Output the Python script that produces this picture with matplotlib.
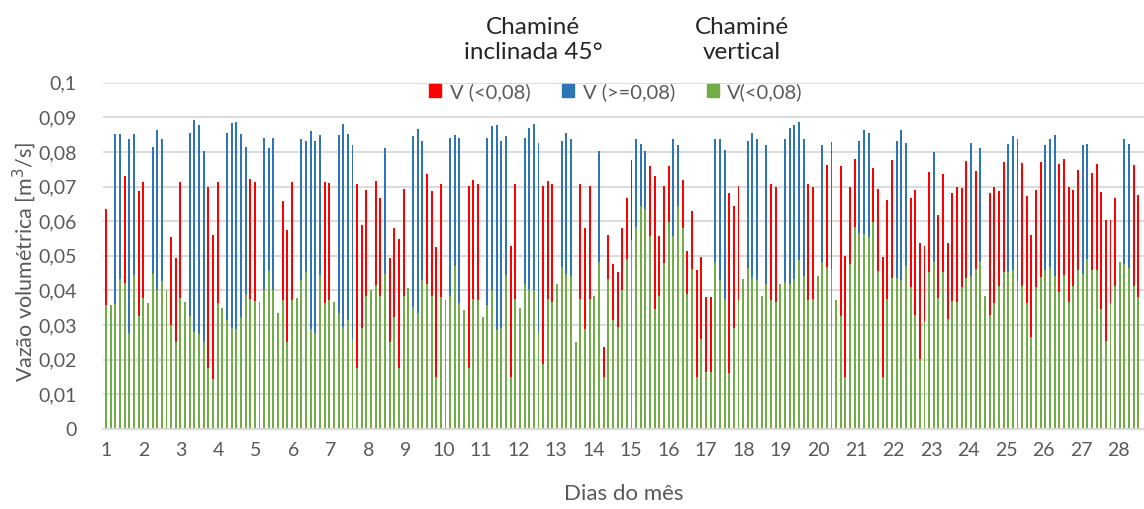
import numpy as np
import matplotlib
matplotlib.use("Agg")
import matplotlib.pyplot as plt
from matplotlib.patches import Patch

plt.rcParams["font.family"] = ["Lato", "DejaVu Sans"]

# Volumetric flow per 3-hour interval (8 per day): lower value and upper value.
# None in vazao_max means the interval has no range above the base.
vazao_min = [
    .0358, .0358, .0361, .0432, .0423, .0278, .0444, .0326,
    .0378, .0364, .0448, .0401, .0426, .0401, .0300, .0252,
    .0378, .0367, .0326, .0280, .0274, .0252, .0177, .0145,
    .0364, .0350, .0316, .0292, .0288, .0322, .0390, .0375,
    .0370, .0367, .0401, .0459, .0401, .0334, .0372, .0252,
    .0372, .0379, .0430, .0454, .0290, .0278, .0444, .0364,
    .0372, .0367, .0336, .0295, .0316, .0259, .0177, .0292,
    .0385, .0400, .0416, .0385, .0448, .0252, .0322, .0177,
    .0385, .0406, .0353, .0336, .0430, .0418, .0385, .0151,
    .0380, .0372, .0385, .0471, .0363, .0343, .0177, .0375,
    .0372, .0322, .0358, .0401, .0286, .0292, .0444, .0151,
    .0375, .0350, .0420, .0404, .0401, .0280, .0187, .0375,
    .0367, .0418, .0468, .0449, .0442, .0250, .0375, .0288,
    .0375, .0385, .0481, .0151, .0433, .0316, .0295, .0401,
    .0490, .0545, .0584, .0643, .0634, .0557, .0346, .0385,
    .0478, .0598, .0557, .0643, .0581, .0389, .0462, .0151,
    .0260, .0165, .0165, .0483, .0430, .0375, .0163, .0292,
    .0372, .0433, .0466, .0439, .0430, .0385, .0420, .0372,
    .0367, .0418, .0425, .0418, .0433, .0488, .0442, .0372,
    .0375, .0442, .0483, .0468, .0462, .0372, .0327, .0151,
    .0476, .0582, .0566, .0564, .0553, .0598, .0455, .0151,
    .0375, .0435, .0435, .0430, .0471, .0411, .0329, .0201,
    .0313, .0454, .0483, .0379, .0454, .0319, .0370, .0367,
    .0411, .0435, .0442, .0462, .0486, .0385, .0329, .0364,
    .0413, .0452, .0454, .0459, .0428, .0413, .0364, .0266,
    .0409, .0438, .0459, .0468, .0442, .0396, .0444, .0367,
    .0413, .0459, .0449, .0492, .0459, .0459, .0346, .0254,
    .0364, .0413, .0483, .0476, .0466, .0413, .0380,
]
vazao_max = [
    .0636, None, .0853, .0853, .0731, .0838, .0853, .0686,
    .0713, None, .0814, .0863, .0836, None, .0553, .0493,
    .0713, None, .0856, .0891, .0877, .0803, .0699, .0560,
    .0713, None, .0856, .0884, .0887, .0853, .0814, .0723,
    .0713, None, .0841, .0810, .0841, None, .0658, .0574,
    .0713, None, .0836, .0832, .0860, .0832, .0850, .0713,
    .0710, None, .0850, .0880, .0853, .0821, .0707, .0588,
    .0689, None, .0716, .0668, .0810, .0493, .0581, .0550,
    .0692, None, .0845, .0865, .0832, .0735, .0686, .0525,
    .0707, None, .0841, .0850, .0841, None, .0701, .0719,
    .0707, None, .0841, .0875, .0877, .0832, .0845, .0528,
    .0707, None, .0841, .0870, .0880, .0825, .0701, .0716,
    .0707, None, .0832, .0856, .0838, None, .0707, .0581,
    .0701, None, .0803, .0236, .0560, .0476, .0454, .0581,
    .0668, .0776, .0836, .0822, .0803, .0759, .0730, .0557,
    .0701, .0759, .0838, .0821, .0720, .0513, .0629, .0459,
    .0497, .0382, .0382, .0836, .0838, .0807, .0682, .0643,
    .0701, None, .0832, .0856, .0836, None, .0821, .0707,
    .0699, None, .0838, .0870, .0877, .0887, .0836, .0707,
    .0699, None, .0819, .0762, .0829, None, .0759, .0500,
    .0699, .0779, .0832, .0863, .0856, .0755, .0694, .0497,
    .0661, .0776, .0832, .0863, .0825, .0668, .0689, .0536,
    .0528, .0742, .0801, .0619, .0735, .0538, .0682, .0699,
    .0696, .0773, .0827, .0744, .0810, None, .0682, .0699,
    .0687, .0771, .0824, .0845, .0838, .0768, .0673, .0559,
    .0691, .0771, .0821, .0838, .0848, .0764, .0779, .0699,
    .0691, .0747, .0821, .0824, .0740, .0765, .0685, .0603,
    .0603, .0668, None, .0838, .0822, .0762, .0675,
]
limite = 0.08
dias = list(range(1, 29))
intervalos_por_dia = 8
y_ticks = [0, 0.01, 0.02, 0.03, 0.04, 0.05, 0.06, 0.07, 0.08, 0.09, 0.1]

cor_verde = "#70AD47"
cor_vermelho = "#FF0000"
cor_azul = "#2E75B6"
cor_texto = "#595959"
cor_grade = "#D9D9D9"

vmin = np.array(vazao_min, dtype=float)
vmax = np.array([np.nan if v is None else v for v in vazao_max], dtype=float)
x = np.arange(len(vmin))
tem_faixa = ~np.isnan(vmax)
vermelho = tem_faixa & (np.nan_to_num(vmax) < limite)
azul = tem_faixa & (np.nan_to_num(vmax) >= limite)

W, H = 1144, 509
fig = plt.figure(figsize=(W / 100, H / 100), dpi=100)
ax = fig.add_axes([103 / W, 1 - 429 / H, (W - 103) / W, (429 - 82.7) / H])

largura = 0.42
ax.bar(x, vmin, width=largura, color=cor_verde, linewidth=0, zorder=2)
ax.bar(x[vermelho], (vmax - vmin)[vermelho], bottom=vmin[vermelho],
       width=largura, color=cor_vermelho, linewidth=0, zorder=2)
ax.bar(x[azul], (vmax - vmin)[azul], bottom=vmin[azul],
       width=largura, color=cor_azul, linewidth=0, zorder=2)

ax.set_xlim(-0.65, 223.2)
ax.set_ylim(0, 0.1)
ax.set_yticks(y_ticks)
ax.set_yticklabels([("%g" % v).replace(".", ",") for v in y_ticks])
# day labels are spread slightly wider than the 8-interval grid
passo_rotulo = intervalos_por_dia * 1.008
ax.set_xticks([(d - 1) * passo_rotulo for d in dias])
ax.set_xticklabels([str(d) for d in dias])
ax.tick_params(axis="both", length=0, labelsize=14, colors=cor_texto)
ax.tick_params(axis="y", pad=19)
ax.tick_params(axis="x", pad=9)

ax.yaxis.grid(True, color=cor_grade, linewidth=1.3, zorder=0)
ax.set_axisbelow(True)
for lado in ("left", "right", "top"):
    ax.spines[lado].set_visible(False)
ax.spines["bottom"].set_color(cor_grade)
ax.spines["bottom"].set_linewidth(1.3)

fig.text(24 / W, 1 - 262 / H, "Vazão volumétrica [m$^3$/s]", rotation=90,
         ha="center", va="center", fontsize=15.5, color=cor_texto)
fig.text(624 / W, 1 - 494 / H, "Dias do mês", ha="center", va="center",
         fontsize=16, color=cor_texto)

fig.text(533 / W, 1 - 40 / H, "Chaminé\ninclinada 45°", ha="center", va="center",
         fontsize=17.5, color="#262626", linespacing=1.2)
fig.text(742 / W, 1 - 40 / H, "Chaminé\nvertical", ha="center", va="center",
         fontsize=17.5, color="#262626", linespacing=1.2)

handles = [Patch(color=cor_vermelho, label="V (<0,08)"),
           Patch(color=cor_azul, label="V (>=0,08)"),
           Patch(color=cor_verde, label="V(<0,08)")]
fig.legend(handles=handles, loc="center", bbox_to_anchor=(616 / W, 1 - 92 / H),
           ncol=3, frameon=False, fontsize=14.5, labelcolor=cor_texto,
           handlelength=0.6, handleheight=0.6, handletextpad=0.4,
           columnspacing=1.6)

fig.savefig("out.png", dpi=100)
